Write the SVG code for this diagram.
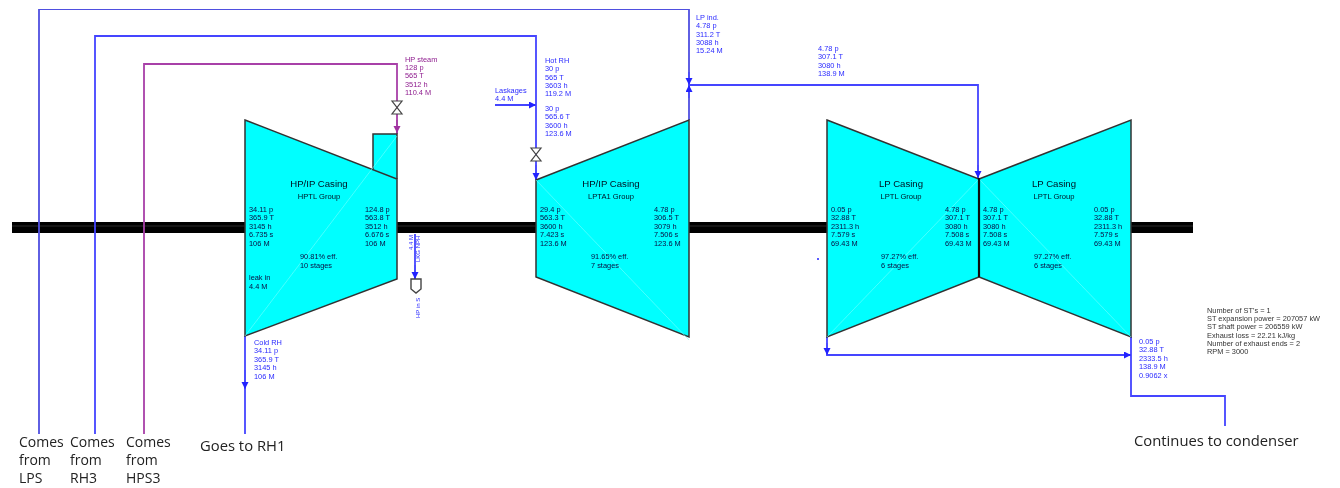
<svg xmlns="http://www.w3.org/2000/svg" width="1340" height="488" viewBox="0 0 1340 488">
<style>
text{font-family:"Liberation Sans",Arial,sans-serif}
.s{font-size:7.4px;fill:#0c0c40}
.b{font-size:7.4px;fill:#2a2aff}
.p{font-size:7.4px;fill:#8e1c8e}
.g{font-size:7.4px;fill:#333}
.t{font-size:9.6px;fill:#012}
.u{font-size:7.6px;fill:#012}
.n{font-family:"Open Sans","Noto Sans",sans-serif;font-size:14px;fill:#222}
.n2{font-size:14.8px}
.c{fill:#00ffff;stroke:#333;stroke-width:1.5}
.w{fill:none;stroke:#4444ff;stroke-width:1.8}
.wp{fill:none;stroke:#a840a8;stroke-width:1.8}
.v{fill:#fff;stroke:#444;stroke-width:1.2}
.d{stroke:#7ff;stroke-width:.6;fill:none}
</style>
<defs>
<marker id="ab" markerWidth="8" markerHeight="8" refX="7" refY="3.5" orient="auto" markerUnits="userSpaceOnUse"><path d="M0 0L7 3.5L0 7Z" fill="#2020ff"/></marker>
<marker id="ap" markerWidth="8" markerHeight="8" refX="7" refY="3.5" orient="auto" markerUnits="userSpaceOnUse"><path d="M0 0L7 3.5L0 7Z" fill="#a030a0"/></marker>
<filter id="soft" x="0" y="0" width="1" height="1" filterUnits="objectBoundingBox"><feGaussianBlur stdDeviation="0.4"/></filter>
</defs>

<g filter="url(#soft)">
<g id="shaft"><rect x="12" y="222" width="1181" height="11" fill="#000"/><line x1="12" y1="226" x2="1193" y2="226" stroke="#555" stroke-width=".5"/></g>

<g id="connectors">
<path class="w" d="M39 434V9H689V120" style="stroke:#5050e0"/>
<path class="w" d="M95 434V36H536V180"/>
<path class="wp" d="M144 434V64H397V134"/>
<path class="w" d="M689 85H978V178"/>
<path class="w" d="M245 336V434"/>
<path class="w" d="M827 337V355H1131"/>
<path class="w" d="M1131 337V396H1225V426"/>
<path class="w" d="M495 105H536"/>
<path class="w" d="M415 234V279"/>
<g class="w" style="stroke-width:1.2">
<line x1="245" y1="370" x2="245" y2="389" marker-end="url(#ab)"/>
<line x1="536" y1="165" x2="536" y2="180" marker-end="url(#ab)"/>
<line x1="525" y1="105" x2="536" y2="105" marker-end="url(#ab)"/>
<line x1="415" y1="265" x2="415" y2="279" marker-end="url(#ab)"/>
<line x1="689" y1="72" x2="689" y2="85" marker-end="url(#ab)"/>
<line x1="689" y1="98" x2="689" y2="85" marker-end="url(#ab)"/>
<line x1="978" y1="165" x2="978" y2="178" marker-end="url(#ab)"/>
<line x1="827" y1="343" x2="827" y2="355" marker-end="url(#ab)"/>
<line x1="1120" y1="355" x2="1131" y2="355" marker-end="url(#ab)"/>
</g>
<line class="wp" x1="397" y1="120" x2="397" y2="133" marker-end="url(#ap)"/>
</g>

<g id="hp-casing">
<path class="c" d="M373 170V134H397V179"/>
<path class="c" d="M245 120L397 179V279L245 336Z"/>
<path class="d" d="M245 336L397 136"/>
<text class="t" x="319" y="187" text-anchor="middle">HP/IP Casing</text>
<text class="u" x="319" y="199" text-anchor="middle">HPTL Group</text>
<text class="s" x="249" y="212"><tspan x="249" dy="0">34.11 p</tspan><tspan x="249" dy="8.4">365.9 T</tspan><tspan x="249" dy="8.4">3145 h</tspan><tspan x="249" dy="8.4">6.735 s</tspan><tspan x="249" dy="8.4">106 M</tspan></text>
<text class="s" x="365" y="212"><tspan x="365" dy="0">124.8 p</tspan><tspan x="365" dy="8.4">563.8 T</tspan><tspan x="365" dy="8.4">3512 h</tspan><tspan x="365" dy="8.4">6.676 s</tspan><tspan x="365" dy="8.4">106 M</tspan></text>
<text class="s" x="300" y="259"><tspan x="300" dy="0">90.81% eff.</tspan><tspan x="300" dy="8.6">10 stages</tspan></text>
<text class="s" x="249" y="280"><tspan x="249" dy="0">leak in</tspan><tspan x="249" dy="8.6">4.4 M</tspan></text>
</g>

<g id="ip-casing">
<path class="c" d="M536 180L689 120V337L536 277Z"/>
<path class="d" d="M536 180L689 340"/>
<text class="t" x="611" y="187" text-anchor="middle">HP/IP Casing</text>
<text class="u" x="611" y="199" text-anchor="middle">LPTA1 Group</text>
<text class="s" x="540" y="212"><tspan x="540" dy="0">29.4 p</tspan><tspan x="540" dy="8.4">563.3 T</tspan><tspan x="540" dy="8.4">3600 h</tspan><tspan x="540" dy="8.4">7.423 s</tspan><tspan x="540" dy="8.4">123.6 M</tspan></text>
<text class="s" x="654" y="212"><tspan x="654" dy="0">4.78 p</tspan><tspan x="654" dy="8.4">306.5 T</tspan><tspan x="654" dy="8.4">3079 h</tspan><tspan x="654" dy="8.4">7.506 s</tspan><tspan x="654" dy="8.4">123.6 M</tspan></text>
<text class="s" x="591" y="259"><tspan x="591" dy="0">91.65% eff.</tspan><tspan x="591" dy="8.6">7 stages</tspan></text>
</g>

<g id="lp-casing-1">
<path class="c" d="M827 120L979 179V277L827 337Z"/>
<path class="d" d="M827 337L979 179"/>
<text class="t" x="901" y="187" text-anchor="middle">LP Casing</text>
<text class="u" x="901" y="199" text-anchor="middle">LPTL Group</text>
<text class="s" x="831" y="212"><tspan x="831" dy="0">0.05 p</tspan><tspan x="831" dy="8.4">32.88 T</tspan><tspan x="831" dy="8.4">2311.3 h</tspan><tspan x="831" dy="8.4">7.579 s</tspan><tspan x="831" dy="8.4">69.43 M</tspan></text>
<text class="s" x="945" y="212"><tspan x="945" dy="0">4.78 p</tspan><tspan x="945" dy="8.4">307.1 T</tspan><tspan x="945" dy="8.4">3080 h</tspan><tspan x="945" dy="8.4">7.508 s</tspan><tspan x="945" dy="8.4">69.43 M</tspan></text>
<text class="s" x="881" y="259"><tspan x="881" dy="0">97.27% eff.</tspan><tspan x="881" dy="8.6">6 stages</tspan></text>
</g>

<g id="lp-casing-2">
<path class="c" d="M979 179L1131 120V337L979 277Z"/>
<path class="d" d="M979 179L1131 337"/>
<line x1="979" y1="178" x2="979" y2="277" stroke="#111" stroke-width="2.2"/>
<text class="t" x="1054" y="187" text-anchor="middle">LP Casing</text>
<text class="u" x="1054" y="199" text-anchor="middle">LPTL Group</text>
<text class="s" x="983" y="212"><tspan x="983" dy="0">4.78 p</tspan><tspan x="983" dy="8.4">307.1 T</tspan><tspan x="983" dy="8.4">3080 h</tspan><tspan x="983" dy="8.4">7.508 s</tspan><tspan x="983" dy="8.4">69.43 M</tspan></text>
<text class="s" x="1094" y="212"><tspan x="1094" dy="0">0.05 p</tspan><tspan x="1094" dy="8.4">32.88 T</tspan><tspan x="1094" dy="8.4">2311.3 h</tspan><tspan x="1094" dy="8.4">7.579 s</tspan><tspan x="1094" dy="8.4">69.43 M</tspan></text>
<text class="s" x="1034" y="259"><tspan x="1034" dy="0">97.27% eff.</tspan><tspan x="1034" dy="8.6">6 stages</tspan></text>
</g>

<g id="valve-hp"><path class="v" d="M392 101H402L392 114H402Z"/></g>
<g id="valve-rh"><path class="v" d="M531 148H541L531 161H541Z"/></g>
<g id="gland"><path class="v" d="M411 279H421V289L416 293L411 289Z" style="stroke-width:1.4"/></g>
<g id="point"><circle cx="818" cy="259" r="1" fill="#2020ff"/></g>

<g id="labels">
<text class="p" x="405" y="62"><tspan x="405" dy="0">HP steam</tspan><tspan x="405" dy="8.2">128 p</tspan><tspan x="405" dy="8.2">565 T</tspan><tspan x="405" dy="8.2">3512 h</tspan><tspan x="405" dy="8.2">110.4 M</tspan></text>
<text class="b" x="545" y="63"><tspan x="545" dy="0">Hot RH</tspan><tspan x="545" dy="8.3">30 p</tspan><tspan x="545" dy="8.3">565 T</tspan><tspan x="545" dy="8.3">3603 h</tspan><tspan x="545" dy="8.3">119.2 M</tspan></text>
<text class="b" x="545" y="111"><tspan x="545" dy="0">30 p</tspan><tspan x="545" dy="8.3">565.6 T</tspan><tspan x="545" dy="8.3">3600 h</tspan><tspan x="545" dy="8.3">123.6 M</tspan></text>
<text class="b" x="495" y="93"><tspan x="495" dy="0">Laskages</tspan><tspan x="495" dy="8.3">4.4 M</tspan></text>
<text class="b" x="696" y="20"><tspan x="696" dy="0">LP ind.</tspan><tspan x="696" dy="8.3">4.78 p</tspan><tspan x="696" dy="8.3">311.2 T</tspan><tspan x="696" dy="8.3">3088 h</tspan><tspan x="696" dy="8.3">15.24 M</tspan></text>
<text class="b" x="818" y="51"><tspan x="818" dy="0">4.78 p</tspan><tspan x="818" dy="8.4">307.1 T</tspan><tspan x="818" dy="8.4">3080 h</tspan><tspan x="818" dy="8.4">138.9 M</tspan></text>
<text class="b" x="254" y="345"><tspan x="254" dy="0">Cold RH</tspan><tspan x="254" dy="8.4">34.11 p</tspan><tspan x="254" dy="8.4">365.9 T</tspan><tspan x="254" dy="8.4">3145 h</tspan><tspan x="254" dy="8.4">106 M</tspan></text>
<text class="b" x="1139" y="344"><tspan x="1139" dy="0">0.05 p</tspan><tspan x="1139" dy="8.4">32.88 T</tspan><tspan x="1139" dy="8.4">2333.5 h</tspan><tspan x="1139" dy="8.4">138.9 M</tspan><tspan x="1139" dy="8.4">0.9062 x</tspan></text>
<text class="b" style="font-size:6px" transform="translate(413 250) rotate(-90)">4.4 M</text>
<text class="b" style="font-size:6px" transform="translate(420 262) rotate(-90)">LKG NPH</text>
<text class="b" style="font-size:6px" transform="translate(420 318) rotate(-90)">HP in S</text>
<text class="g" x="1207" y="313"><tspan x="1207" dy="0">Number of ST's = 1</tspan><tspan x="1207" dy="8.2">ST expansion power = 207057 kW</tspan><tspan x="1207" dy="8.2">ST shaft power = 206559 kW</tspan><tspan x="1207" dy="8.2">Exhaust loss = 22.21  kJ/kg</tspan><tspan x="1207" dy="8.2">Number of exhaust ends = 2</tspan><tspan x="1207" dy="8.2">RPM = 3000</tspan></text>
</g>
</g>

<g id="notes">
<text class="n" x="19" y="447"><tspan x="19" dy="0">Comes</tspan><tspan x="19" dy="18">from</tspan><tspan x="19" dy="18">LPS</tspan></text>
<text class="n" x="70" y="447"><tspan x="70" dy="0">Comes</tspan><tspan x="70" dy="18">from</tspan><tspan x="70" dy="18">RH3</tspan></text>
<text class="n" x="126" y="447"><tspan x="126" dy="0">Comes</tspan><tspan x="126" dy="18">from</tspan><tspan x="126" dy="18">HPS3</tspan></text>
<text class="n n2" x="200" y="451">Goes to RH1</text>
<text class="n n2" x="1134" y="446">Continues to condenser</text>
</g>
</svg>
